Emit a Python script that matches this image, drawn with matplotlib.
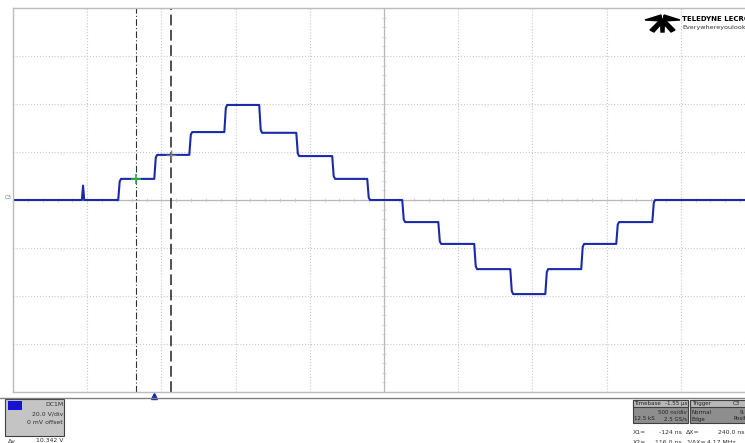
import matplotlib.pyplot as plt
import matplotlib.patches as patches
import numpy as np

edges = [-236, 7, 243, 479, 714, 964, 1206, 1442, 1678, 1921, 2163, 2406, 2642, 2884, 3120, 3363]
levels = [0, 8.8, 18.8, 28.3, 39.6, 28.0, 18.3, 8.8, 0, -9.2, -18.3, -28.8, -39.2, -28.8, -18.3, -9.2, 0]
spike_t, spike_v = -478, 6.0
cursor_x1, cursor_x2 = -124, 116

W, H = 745, 443
def fx(x):
    return x / W
def fy(y):
    return 1 - y / H

# build the trace
t = [-950.0, spike_t - 8, spike_t, spike_t + 8]
v = [0.0, 0.0, spike_v, 0.0]
for i, e in enumerate(edges):
    a, b = levels[i], levels[i + 1]
    t += [e - 5, e + 5, e + 14]
    v += [a, a + 0.88 * (b - a), b]
t.append(4050.0)
v.append(levels[-1])

fig = plt.figure(figsize=(W / 100, H / 100), dpi=100)
fig.patch.set_facecolor('white')
ax = fig.add_axes([fx(13), fy(392), (755 - 13) / W, (392 - 8) / H])
ax.set_xlim(-950, 4050)
ax.set_ylim(-80, 80)
ax.set_xticks(np.arange(-950, 4051, 500))
ax.set_yticks(np.arange(-80, 81, 20))
ax.tick_params(length=0, labelbottom=False, labelleft=False)
ax.grid(True, ls=':', color='#c8c8c8', lw=0.8)
for s in ax.spines.values():
    s.set_color('#bcbcbc')
    s.set_linewidth(1.0)

# center axes with minor ticks
ax.axvline(1550, color='#b8b8b8', lw=0.9)
ax.axhline(0, color='#b8b8b8', lw=0.9)
ax.plot(np.arange(-950, 4051, 100), np.zeros(51), ls='none', marker='|', ms=2.5, color='#c4c4c4', mew=0.5)
ax.plot(np.full(41, 1550), np.arange(-80, 81, 4), ls='none', marker='_', ms=2.5, color='#c4c4c4', mew=0.5)

# cursors
ax.axvline(cursor_x1, color='#303030', lw=0.8, ls=(0, (6, 2, 1, 2)))
ax.axvline(cursor_x2, color='#202020', lw=1.1, ls=(0, (7, 3)))

ax.plot(t, v, color='#1a2aa8', lw=1.5)

ax.plot(cursor_x1, levels[1], marker='+', ms=7, mew=1.2, color='#30b040')
ax.plot(cursor_x2, levels[2], marker='+', ms=7, mew=1.0, color='#808080')

# trigger marker
ax.plot(0, -81.7, marker='^', ms=4, color='#1a2aa8', clip_on=False)

fig.text(fx(5), fy(197), 'C3', fontsize=3.8, color='#6070a0', va='center')

# separator line
fig.add_artist(plt.Line2D([0, 1], [fy(398), fy(398)], color='#808080', lw=1.0, transform=fig.transFigure))

# logo
logo = [
    [(645, 20), (661, 15), (662, 21)],
    [(680, 20), (664, 15), (663, 21)],
    [(660.5, 19), (664.5, 19), (664, 32), (661, 32)],
    [(659, 21), (662, 23), (654, 32), (650, 30)],
    [(666, 21), (663, 23), (671, 32), (675, 30)],
]
for poly in logo:
    fig.add_artist(patches.Polygon([(fx(x), fy(y)) for x, y in poly], closed=True,
                                   color='black', transform=fig.transFigure))
fig.text(fx(682), fy(19), 'TELEDYNE LECROY', fontsize=5, weight='bold', va='center')
fig.text(fx(682), fy(28), 'Everywhereyoulook', fontsize=4.6, va='center', color='#333333')

# left channel box
fig.add_artist(patches.Rectangle((fx(5), fy(436)), (64 - 5) / W, (436 - 399) / H,
                                 facecolor='#c4c4c4', edgecolor='#404040', lw=0.8, transform=fig.transFigure))
fig.add_artist(patches.Rectangle((fx(8), fy(410)), 14 / W, 9 / H,
                                 facecolor='#1414d0', edgecolor='none', transform=fig.transFigure))
small = dict(fontsize=4.4, color='#303030', va='center')
fig.text(fx(63), fy(405), 'DC1M', ha='right', **small)
fig.text(fx(63), fy(414), '20.0 V/div', ha='right', **small)
fig.text(fx(63), fy(423), '0 mV offset', ha='right', **small)
fig.text(fx(8), fy(441), 'Δy', ha='left', **small)
fig.text(fx(63), fy(441), '10.342 V', ha='right', **small)

tiny = dict(fontsize=4.0, color='#202020', va='center')
# timebase box
fig.add_artist(patches.Rectangle((fx(633), fy(423)), 55 / W, 23 / H,
                                 facecolor='#8e8e8e', edgecolor='#404040', lw=0.8, transform=fig.transFigure))
fig.add_artist(patches.Rectangle((fx(633), fy(407)), 55 / W, 7 / H,
                                 facecolor='#b8b8b8', edgecolor='#404040', lw=0.8, transform=fig.transFigure))
fig.text(fx(634), fy(403.5), 'Timebase', ha='left', **tiny)
fig.text(fx(687), fy(403.5), '-1.55 µs', ha='right', **tiny)
fig.text(fx(687), fy(412), '500 ns/div', ha='right', **tiny)
fig.text(fx(634), fy(419), '12.5 kS', ha='left', **tiny)
fig.text(fx(687), fy(419), '2.5 GS/s', ha='right', **tiny)

# trigger box
fig.add_artist(patches.Rectangle((fx(690), fy(423)), 60 / W, 23 / H,
                                 facecolor='#8e8e8e', edgecolor='#404040', lw=0.8, transform=fig.transFigure))
fig.add_artist(patches.Rectangle((fx(690), fy(407)), 60 / W, 7 / H,
                                 facecolor='#b8b8b8', edgecolor='#404040', lw=0.8, transform=fig.transFigure))
fig.text(fx(692), fy(403.5), 'Trigger', ha='left', **tiny)
fig.text(fx(733), fy(403.5), 'C3', ha='left', **tiny)
fig.text(fx(692), fy(412), 'Normal', ha='left', **tiny)
fig.text(fx(740), fy(412), '9.', ha='left', **tiny)
fig.text(fx(692), fy(419), 'Edge', ha='left', **tiny)
fig.text(fx(733), fy(419), 'Positive', ha='left', **tiny)

# cursor readout
fig.text(fx(633), fy(433), 'X1=', ha='left', **small)
fig.text(fx(682), fy(433), '-124 ns', ha='right', **small)
fig.text(fx(686), fy(433), 'ΔX=', ha='left', **small)
fig.text(fx(745), fy(433), '240.0 ns', ha='right', **small)
fig.text(fx(633), fy(442), 'X2=', ha='left', **small)
fig.text(fx(682), fy(442), '116.0 ns', ha='right', **small)
fig.text(fx(686), fy(442), '1/ΔX=', ha='left', **small)
fig.text(fx(707), fy(442), '4.17 MHz', ha='left', **small)

fig.savefig('out.png', dpi=100)
